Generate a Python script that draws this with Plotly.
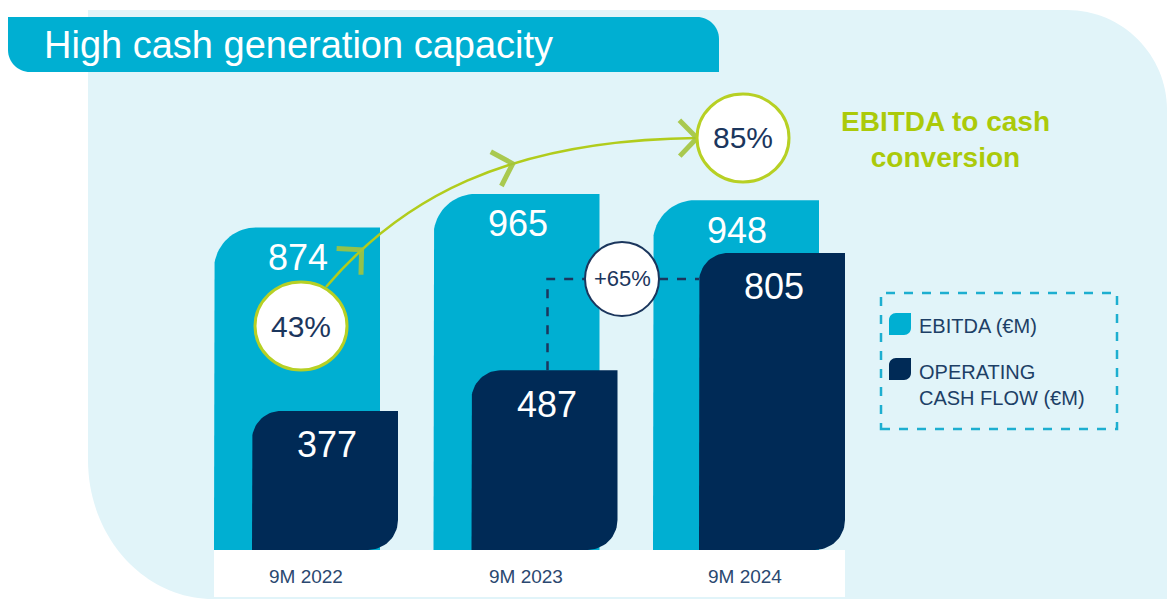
import numpy as np
import plotly.graph_objects as go

# ---------------- data ----------------
categories = ["9M 2022", "9M 2023", "9M 2024"]
ebitda = [874, 965, 948]          # EBITDA (€M)
ocf = [377, 487, 805]             # Operating cash flow (€M)
series_names = ["EBITDA (€M)", "OPERATING<br>CASH FLOW (€M)"]
title_text = "High cash generation capacity"
conv_text = "EBITDA to cash<br>conversion"

# derived figures shown on the chart
conversion = [round(o / e * 100) for o, e in zip(ocf, ebitda)]   # 43, 50, 85
growth = round((ocf[2] / ocf[1] - 1) * 100)                     # 65

# ---------------- layout constants ----------------
W, H = 1167, 599
S = 0.369          # pixels per €M
BASE = 550         # pixel row of the zero line
FONT = "Liberation Sans, Arial, sans-serif"
CYAN = "#00AFD2"
NAVY = "#002A56"
BG = "#E1F4F9"
GREEN = "#ABCA0A"
CIRC_GREEN = "#B7D024"
TXT_NAVY = "#1B365D"

E_LEFT0, E_STEP, E_W = 214, 219.5, 166
O_SHIFT = [38, 38, 46]
O_W = 146


def P(x, y):
    return f"{x / W:.5f},{1 - y / H:.5f}"


def q_ellipse(a, c, b, k=0.5523):
    """cubic from a to b with corner c (pixel coords) -> path segment"""
    c1 = (a[0] + k * (c[0] - a[0]), a[1] + k * (c[1] - a[1]))
    c2 = (b[0] + k * (c[0] - b[0]), b[1] + k * (c[1] - b[1]))
    return f" C{P(*c1)} {P(*c2)} {P(*b)}"


def rounded_bar(x0, w, v, r_tl, r_br, n=20):
    ry_tl, ry_br = r_tl / S, r_br / S
    xs, ys = [x0, x0], [0, v - ry_tl]
    for a in np.linspace(np.pi, np.pi / 2, n):
        xs.append(x0 + r_tl + r_tl * np.cos(a))
        ys.append(v - ry_tl + ry_tl * np.sin(a))
    xs.append(x0 + w); ys.append(v)
    if r_br > 0:
        xs.append(x0 + w); ys.append(ry_br)
        for a in np.linspace(0, -np.pi / 2, n):
            xs.append(x0 + w - r_br + r_br * np.cos(a))
            ys.append(ry_br + ry_br * np.sin(a))
    else:
        xs.append(x0 + w); ys.append(0)
    xs.append(x0); ys.append(0)
    return xs, ys


fig = go.Figure()
shapes = []
annotations = []


def txt(x, y, text, size, color, xref="paper", yref="paper", xanchor="center",
        yanchor="middle", align="center", yshift=0):
    annotations.append(dict(x=x, y=y, xref=xref, yref=yref, text=text, showarrow=False,
                            xanchor=xanchor, yanchor=yanchor, align=align, yshift=yshift,
                            font=dict(family=FONT, size=size, color=color)))


# ---------------- background decorations ----------------
bg_path = ("M" + P(88, 10) + " L" + P(1067, 10)
           + q_ellipse((1067, 10), (1167, 10), (1167, 110))
           + " L" + P(1167, 599) + " L" + P(213, 599)
           + q_ellipse((213, 599), (88, 599), (88, 460)) + " Z")
shapes.append(dict(type="path", path=bg_path, xref="paper", yref="paper",
                   fillcolor=BG, line=dict(width=0), layer="below"))

banner = ("M" + P(8, 17) + " L" + P(697, 17)
          + q_ellipse((697, 17), (719, 17), (719, 39))
          + " L" + P(719, 72) + " L" + P(30, 72)
          + q_ellipse((30, 72), (8, 72), (8, 50)) + " Z")
shapes.append(dict(type="path", path=banner, xref="paper", yref="paper",
                   fillcolor=CYAN, line=dict(width=0), layer="below"))

# white category band
shapes.append(dict(type="rect", xref="x", yref="y", x0=E_LEFT0, x1=845,
                   y0=0, y1=-(597 - BASE) / S, fillcolor="white",
                   line=dict(width=0), layer="below"))

# ---------------- bars ----------------
for i, cat in enumerate(categories):
    ex0 = E_LEFT0 + i * E_STEP
    xs, ys = rounded_bar(ex0, E_W, ebitda[i], 42, 0)
    fig.add_trace(go.Scatter(x=xs, y=ys, fill="toself", fillcolor=CYAN, mode="lines",
                             line=dict(width=0), name="EBITDA (€M)", showlegend=False,
                             hoveron="fills", text=f"{cat}: EBITDA {ebitda[i]} €M",
                             hoverinfo="text"))
    txt(ex0 + E_W / 2 + 1, ebitda[i], str(ebitda[i]), 36, "white",
        xref="x", yref="y", yshift=-30)
for i, cat in enumerate(categories):
    ox0 = E_LEFT0 + i * E_STEP + O_SHIFT[i]
    xs, ys = rounded_bar(ox0, O_W, ocf[i], 29, 30)
    fig.add_trace(go.Scatter(x=xs, y=ys, fill="toself", fillcolor=NAVY, mode="lines",
                             line=dict(width=0), name="Operating cash flow (€M)",
                             showlegend=False, hoveron="fills",
                             text=f"{cat}: Operating cash flow {ocf[i]} €M",
                             hoverinfo="text"))
    txt(ox0 + O_W / 2 + 2, ocf[i], str(ocf[i]), 36, "white", xref="x", yref="y", yshift=-34)
    txt(E_LEFT0 + i * E_STEP + E_W / 2 + 9, 1 - 576 / H, cat, 19, "#2B4870", xref="x")

# ---------------- growth connector (+65%) ----------------
level = ocf[2] - 26 / S
cx_g = 622
o1_center = E_LEFT0 + E_STEP + O_SHIFT[1] + O_W / 2 + 3
o2_left = E_LEFT0 + 2 * E_STEP + O_SHIFT[2]
dash = dict(color=TXT_NAVY, width=2.5, dash="dash")
shapes.append(dict(type="path", xref="x", yref="y", layer="above",
                   path=f"M{o1_center},{ocf[1]} L{o1_center},{level} L{cx_g - 37},{level}",
                   line=dash))
shapes.append(dict(type="line", xref="x", yref="y", layer="above",
                   x0=cx_g + 37, x1=o2_left, y0=level, y1=level, line=dash))
shapes.append(dict(type="circle", xref="x", yref="y", layer="above",
                   x0=cx_g - 37, x1=cx_g + 37, y0=level - 37 / S, y1=level + 37 / S,
                   fillcolor="white", line=dict(color=TXT_NAVY, width=2)))
txt(cx_g, level, f"+{growth}%", 22, TXT_NAVY, xref="x", yref="y")

# ---------------- conversion arrow ----------------
p0, c1, c2, p3 = np.array([326, 287]), np.array([400, 200]), np.array([505, 140]), np.array([697, 138])


def bez(t):
    return ((1 - t) ** 3) * p0 + 3 * ((1 - t) ** 2) * t * c1 + 3 * (1 - t) * t * t * c2 + t ** 3 * p3


def dbez(t):
    return 3 * ((1 - t) ** 2) * (c1 - p0) + 6 * (1 - t) * t * (c2 - c1) + 3 * t * t * (p3 - c2)


curve = "M" + P(*p0) + " C" + P(*c1) + " " + P(*c2) + " " + P(*p3)
shapes.append(dict(type="path", path=curve, xref="paper", yref="paper", layer="above",
                   line=dict(color="#B1CC1C", width=2.5)))
for t in [0.15, 0.62, 1.0]:
    tip = bez(t)
    d = dbez(t)
    d = d / np.linalg.norm(d)
    back = np.arctan2(-d[1], -d[0])
    arms = []
    for s in (+0.80, -0.80):
        a = back + s
        arms.append(tip + 25 * np.array([np.cos(a), np.sin(a)]))
    chev = "M" + P(*arms[0]) + " L" + P(*tip) + " L" + P(*arms[1])
    shapes.append(dict(type="path", path=chev, xref="paper", yref="paper", layer="above",
                       line=dict(color="rgba(163,196,60,0.9)", width=5)))

for (cx, cy, val) in [(301, 326, conversion[0]), (743, 138, conversion[2])]:
    shapes.append(dict(type="circle", xref="paper", yref="paper", layer="above",
                       x0=(cx - 46) / W, x1=(cx + 46) / W, y0=1 - (cy + 44) / H, y1=1 - (cy - 44) / H,
                       fillcolor="white", line=dict(color=CIRC_GREEN, width=3)))
    txt(cx / W, 1 - cy / H, f"{val}%", 30, TXT_NAVY)

txt(945 / W, 1 - 140 / H, f"<b>{conv_text}</b>", 28, GREEN)

# ---------------- title ----------------
txt(42 / W, 1 - 45 / H, title_text, 38, "white", xanchor="left")

# ---------------- custom legend ----------------
shapes.append(dict(type="rect", xref="paper", yref="paper", layer="above",
                   x0=881 / W, x1=1117 / W, y0=1 - 429 / H, y1=1 - 293 / H,
                   line=dict(color="#1DAED0", width=2.5, dash="dash")))


def leaf(x0, y0, s=22, r=7):
    return ("M" + P(x0, y0 + s) + " L" + P(x0, y0 + r)
            + q_ellipse((x0, y0 + r), (x0, y0), (x0 + r, y0))
            + " L" + P(x0 + s, y0) + " L" + P(x0 + s, y0 + s - r)
            + q_ellipse((x0 + s, y0 + s - r), (x0 + s, y0 + s), (x0 + s - r, y0 + s)) + " Z")


for (ly, col, label, ty) in [(313, CYAN, series_names[0], 326), (358, NAVY, series_names[1], 385)]:
    shapes.append(dict(type="path", path=leaf(889, ly), xref="paper", yref="paper",
                       layer="above", fillcolor=col, line=dict(width=0)))
    txt(917 / W, 1 - ty / H, label, 20, "#1D3F66", xanchor="left", align="left")

fig.update_layout(
    width=W, height=H,
    margin=dict(l=0, r=0, t=0, b=0, pad=0),
    paper_bgcolor="white", plot_bgcolor="rgba(0,0,0,0)",
    showlegend=False,
    xaxis=dict(range=[0, W], visible=False, fixedrange=True, domain=[0, 1]),
    yaxis=dict(range=[-(H - BASE) / S, BASE / S], visible=False, fixedrange=True, domain=[0, 1]),
    shapes=shapes,
    annotations=annotations,
    hovermode="closest",
)

fig.write_html("out.html", config={"displayModeBar": False},
               post_script="document.body.style.margin='0';")
